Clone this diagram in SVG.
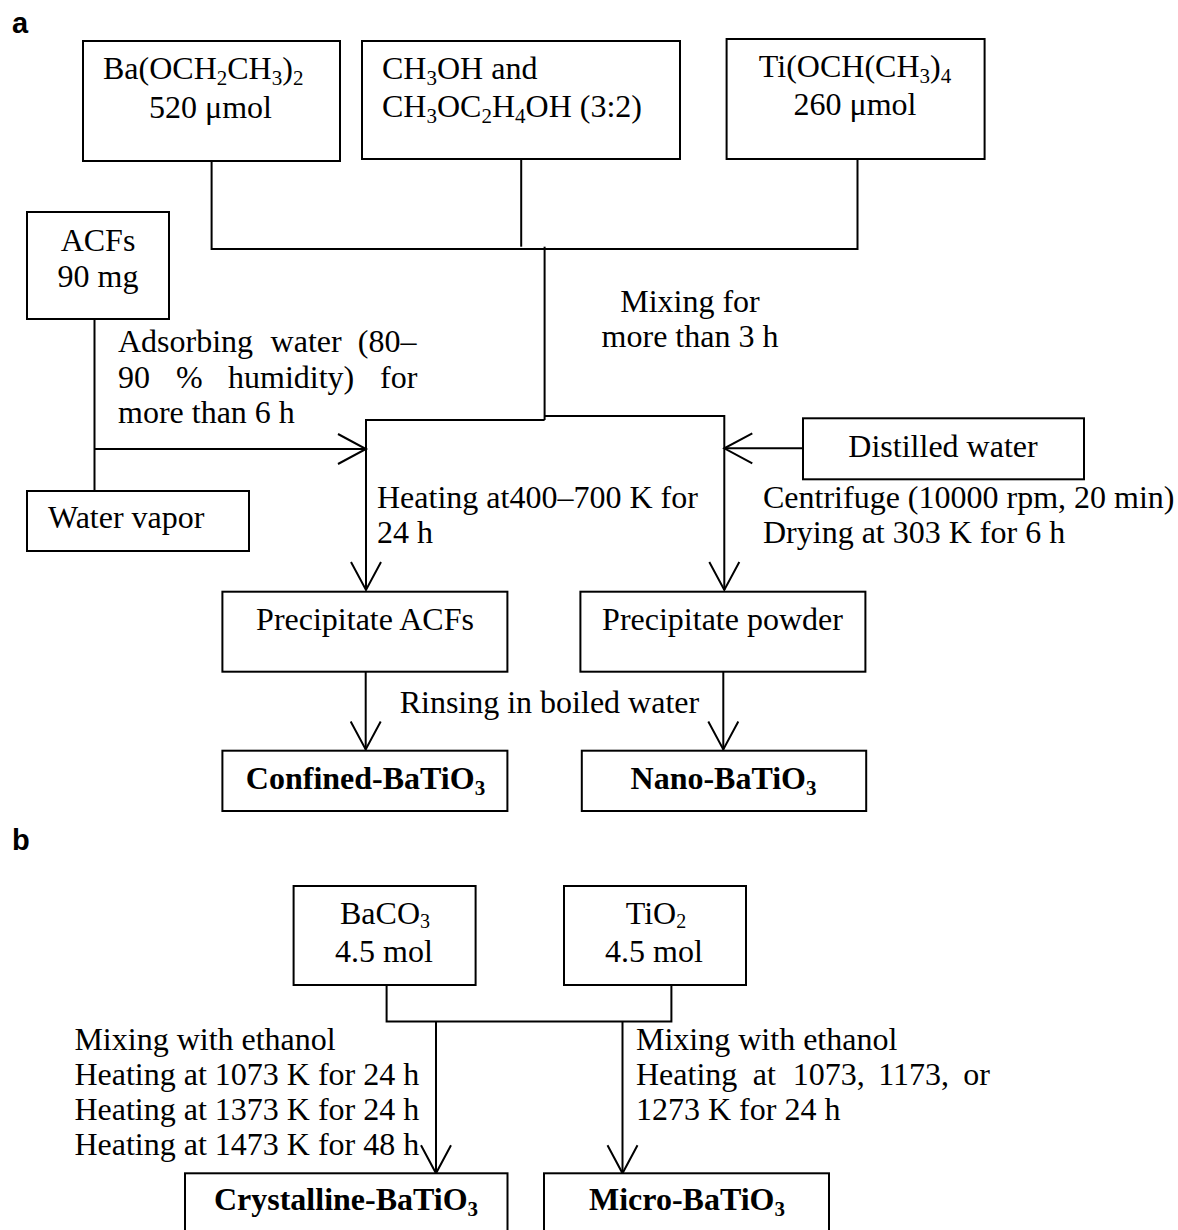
<svg xmlns="http://www.w3.org/2000/svg" width="1178" height="1230" viewBox="0 0 1178 1230">
<style>
.box{fill:#fff;stroke:#000;stroke-width:2}
.t{font-family:"Liberation Serif","Times New Roman",serif;font-size:32px;fill:#000}
.c{text-anchor:middle}
.b{font-weight:bold}
.s{font-size:21px}
.s2{font-size:20px}
.lbl{font-family:"Liberation Sans",Arial,sans-serif;font-weight:bold;font-size:29px;fill:#000}
.conn{fill:none;stroke:#000;stroke-width:2}
</style>
<defs>
<marker id="ah" markerUnits="userSpaceOnUse" markerWidth="32" markerHeight="34" viewBox="0 0 32 34" refX="29" refY="17" orient="auto">
<path d="M1,2 L29,17 L1,32" fill="none" stroke="#000" stroke-width="2"/>
</marker>
</defs>
<rect width="1178" height="1230" fill="#fff"/>
<text class="lbl" x="12" y="33">a</text>
<text class="lbl" x="12" y="850">b</text>

<g id="connectors" class="conn">
<path d="M211.6,161 V249 H857.5 V159"/>
<path d="M521.2,159 V246.7"/>
<path d="M544.6,246.7 V420"/>
<path d="M544.6,420 H366 V590" marker-end="url(#ah)"/>
<path d="M544.6,416 H724.3 V590" marker-end="url(#ah)"/>
<path d="M94.5,311 V491"/>
<path d="M94.5,449 H366" marker-end="url(#ah)"/>
<path d="M803,448.3 H724.3" marker-end="url(#ah)"/>
<path d="M365.7,671.7 V749.5" marker-end="url(#ah)"/>
<path d="M723.3,671.7 V749.5" marker-end="url(#ah)"/>
<path d="M386.6,985 V1021.5 H671.4 V985"/>
<path d="M436,1021.5 V1173.3" marker-end="url(#ah)"/>
<path d="M622.5,1021.5 V1173.3" marker-end="url(#ah)"/>
</g>

<g id="n-ba">
<rect class="box" x="83" y="41" width="257" height="120"/>
<text class="t" x="103" y="79">Ba(OCH<tspan class="s" dy="6">2</tspan><tspan dy="-6">CH</tspan><tspan class="s" dy="6">3</tspan><tspan dy="-6">)</tspan><tspan class="s" dy="6">2</tspan></text>
<text class="t" x="149" y="118">520 μmol</text>
</g>
<g id="n-solvent">
<rect class="box" x="362" y="41" width="318" height="118"/>
<text class="t" x="382" y="79">CH<tspan class="s" dy="6">3</tspan><tspan dy="-6">OH and</tspan></text>
<text class="t" x="382" y="117">CH<tspan class="s" dy="6">3</tspan><tspan dy="-6">OC</tspan><tspan class="s" dy="6">2</tspan><tspan dy="-6">H</tspan><tspan class="s" dy="6">4</tspan><tspan dy="-6">OH (3:2)</tspan></text>
</g>
<g id="n-ti">
<rect class="box" x="726.6" y="39" width="258" height="120"/>
<text class="t c" x="855" y="77">Ti(OCH(CH<tspan class="s" dy="6">3</tspan><tspan dy="-6">)</tspan><tspan class="s" dy="6">4</tspan></text>
<text class="t c" x="855" y="115">260 μmol</text>
</g>
<g id="n-acfs">
<rect class="box" x="27" y="212" width="142" height="107"/>
<text class="t c" x="98" y="251">ACFs</text>
<text class="t c" x="98" y="287">90 mg</text>
</g>
<g id="n-vapor">
<rect class="box" x="27" y="491" width="222" height="60"/>
<text class="t" x="48" y="528">Water vapor</text>
</g>
<g id="n-distilled">
<rect class="box" x="803" y="418.3" width="281" height="61"/>
<text class="t c" x="943" y="457">Distilled water</text>
</g>
<g id="n-precip-acfs">
<rect class="box" x="222.4" y="591.7" width="285" height="80"/>
<text class="t c" x="365" y="630">Precipitate ACFs</text>
</g>
<g id="n-precip-powder">
<rect class="box" x="580.4" y="591.7" width="285" height="80"/>
<text class="t c" x="722.5" y="630">Precipitate powder</text>
</g>
<g id="n-confined">
<rect class="box" x="222.4" y="750.7" width="285" height="60.3"/>
<text class="t c b" x="365.5" y="789">Confined-BaTiO<tspan class="s" dy="6">3</tspan></text>
</g>
<g id="n-nano">
<rect class="box" x="581.8" y="750.7" width="284.4" height="60.3"/>
<text class="t c b" x="723.5" y="789">Nano-BaTiO<tspan class="s" dy="6">3</tspan></text>
</g>
<g id="n-baco3">
<rect class="box" x="293.6" y="886" width="182" height="99"/>
<text class="t c" x="385" y="924">BaCO<tspan class="s2" dy="4">3</tspan></text>
<text class="t c" x="384" y="962">4.5 mol</text>
</g>
<g id="n-tio2">
<rect class="box" x="564" y="886" width="182" height="99"/>
<text class="t c" x="656" y="924">TiO<tspan class="s2" dy="4">2</tspan></text>
<text class="t c" x="654" y="962">4.5 mol</text>
</g>
<g id="n-crystalline">
<rect class="box" x="185" y="1173.3" width="322.5" height="70"/>
<text class="t c b" x="346" y="1210">Crystalline-BaTiO<tspan class="s" dy="6">3</tspan></text>
</g>
<g id="n-micro">
<rect class="box" x="544" y="1173.3" width="285" height="70"/>
<text class="t c b" x="687" y="1210">Micro-BaTiO<tspan class="s" dy="6">3</tspan></text>
</g>

<g id="labels">
<text class="t c" x="690" y="312">Mixing for</text>
<text class="t c" x="690" y="347">more than 3 h</text>
<text class="t" y="352"><tspan x="118">Adsorbing</tspan><tspan x="270.6">water</tspan><tspan x="357.8">(80–</tspan></text>
<text class="t" y="388"><tspan x="118">90</tspan><tspan x="176">%</tspan><tspan x="228">humidity)</tspan><tspan x="380">for</tspan></text>
<text class="t" x="118" y="423">more than 6 h</text>
<text class="t" x="377" y="508">Heating at400–700 K for</text>
<text class="t" x="377" y="543">24 h</text>
<text class="t" x="763" y="508">Centrifuge (10000 rpm, 20 min)</text>
<text class="t" x="763" y="543">Drying at 303 K for 6 h</text>
<text class="t c" x="549.4" y="713">Rinsing in boiled water</text>
<text class="t" x="74.4" y="1050">Mixing with ethanol</text>
<text class="t" x="74.4" y="1085">Heating at 1073 K for 24 h</text>
<text class="t" x="74.4" y="1120">Heating at 1373 K for 24 h</text>
<text class="t" x="74.4" y="1155">Heating at 1473 K for 48 h</text>
<text class="t" x="636" y="1050">Mixing with ethanol</text>
<text class="t" y="1085"><tspan x="636">Heating</tspan><tspan x="752.7">at</tspan><tspan x="792.7">1073,</tspan><tspan x="878.3">1173,</tspan><tspan x="963.3">or</tspan></text>
<text class="t" x="636" y="1120">1273 K for 24 h</text>
</g>
</svg>
